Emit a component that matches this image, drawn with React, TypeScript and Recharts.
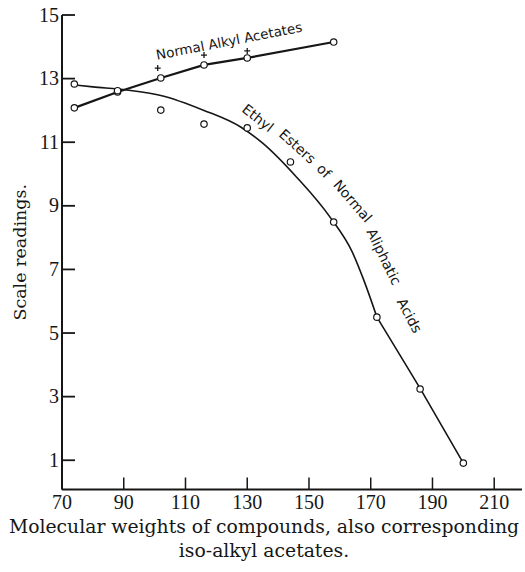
import React from 'react';
import { ComposedChart, Line, Scatter, XAxis, YAxis, ReferenceDot, Label } from 'recharts';

// Tick values
const xTicks = [70, 90, 110, 130, 150, 170, 190, 210];
const yTicks = [1, 3, 5, 7, 9, 11, 13, 15];

// Normal alkyl acetates (connected line with open circles)
const normalMW = [74, 88, 102, 116, 130, 158];
const normalScale = [12.08, 12.58, 13.02, 13.43, 13.65, 14.15];

// Iso-alkyl acetates ("+" marks)
const isoMW = [101, 116, 130];
const isoScale = [13.33, 13.74, 13.87];

// Ethyl esters of normal aliphatic acids (observed points)
const ethylMW = [74, 88, 102, 116, 130, 144, 158, 172, 186, 200];
const ethylScale = [12.83, 12.62, 12.01, 11.57, 11.45, 10.38, 8.49, 5.5, 3.24, 0.91];

// Smooth curve drawn through the ethyl ester points, then its straight tail
const curveMW = [74, 80, 91, 102, 116, 128, 135, 146, 157, 164, 168, 172];
const curveScale = [12.8, 12.74, 12.64, 12.47, 12.0, 11.47, 10.97, 9.9, 8.62, 7.55, 6.6, 5.5];
const tailMW = [172, 186, 200];
const tailScale = [5.5, 3.26, 0.91];

// Hand-lettered annotations
const noteText = ['Normal Alkyl Acetates', 'Ethyl', 'Esters', 'of', 'Normal', 'Aliphatic', 'Acids'];
const noteMW = [124.1, 133.5, 146.3, 154.9, 164.2, 174.3, 182.6];
const noteScale = [14.19, 11.76, 10.87, 10.1, 9.15, 7.4, 5.55];
const noteAngle = [-11, 38, 42, 45, 49, 64, 62];

const zip = (xs: number[], ys: number[]) => xs.map((x, i) => ({ x, y: ys[i] }));
const normalData = zip(normalMW, normalScale);
const isoData = zip(isoMW, isoScale);
const ethylData = zip(ethylMW, ethylScale);
const curveData = zip(curveMW, curveScale);
const tailData = zip(tailMW, tailScale);

const INK = '#161616';
const SERIF = '"DejaVu Serif", "Liberation Serif", serif';
const NUM = '"Liberation Serif", "DejaVu Serif", serif';
const HAND = '"DejaVu Sans", "Liberation Sans", sans-serif';

const XTick = (p: any) => {
  const { x, y, payload } = p;
  return (
    <g>
      <line x1={x} y1={y} x2={x} y2={y - 12} stroke={INK} strokeWidth={1.5} />
      <text x={x} y={y + 19} textAnchor="middle" fontFamily={NUM} fontSize={20} fill={INK}>
        {payload.value}
      </text>
    </g>
  );
};

const YTick = (p: any) => {
  const { x, y, payload } = p;
  return (
    <g>
      <line x1={x} y1={y} x2={x + 13} y2={y} stroke={INK} strokeWidth={1.8} />
      <text x={x - 3} y={y + 6.6} textAnchor="end" fontFamily={NUM} fontSize={20} fill={INK}>
        {payload.value}
      </text>
    </g>
  );
};

const OpenCircle = (p: any) => (
  <circle cx={p.cx} cy={p.cy} r={3.2} fill="#fff" stroke={INK} strokeWidth={1.2} />
);

const Plus = (p: any) => (
  <g stroke={INK} strokeWidth={1.3}>
    <line x1={p.cx - 3} y1={p.cy} x2={p.cx + 3} y2={p.cy} />
    <line x1={p.cx} y1={p.cy - 3} x2={p.cx} y2={p.cy + 3} />
  </g>
);

const YLabel = (p: any) => {
  const vb = p.viewBox;
  const cx = vb.x + 20;
  const cy = vb.y + vb.height / 2;
  return (
    <text x={cx} y={cy} transform={`rotate(-90 ${cx} ${cy})`} textAnchor="middle" dominantBaseline="central"
      fontFamily={SERIF} fontSize={17.5} fill={INK}>
      Scale readings.
    </text>
  );
};

const XLabel = (p: any) => {
  const vb = p.viewBox;
  const cx = vb.x + 202;
  return (
    <g fontFamily={SERIF} fontSize={18.8} fill={INK}>
      <text x={cx} y={vb.y + 43} textAnchor="middle">Molecular weights of compounds, also corresponding</text>
      <text x={cx} y={vb.y + 67} textAnchor="middle">iso-alkyl acetates.</text>
    </g>
  );
};

export default function App() {
  return (
    <div style={{ position: 'absolute', left: 0, top: 0, width: 525, height: 572, background: '#fff' }}>
      <ComposedChart width={525} height={572} margin={{ top: 15, right: 3, bottom: 0, left: 0 }}>
        <XAxis
          type="number"
          dataKey="x"
          domain={[70, 219]}
          allowDataOverflow
          ticks={xTicks}
          tickSize={0}
          tickMargin={0}
          tickLine={false}
          tick={<XTick />}
          interval={0}
          height={82.5}
          axisLine={{ stroke: INK, strokeWidth: 2 }}
        >
          <Label content={<XLabel />} />
        </XAxis>
        <YAxis
          type="number"
          dataKey="y"
          domain={[0.08, 15]}
          allowDataOverflow
          ticks={yTicks}
          tickSize={0}
          tickMargin={0}
          tickLine={false}
          tick={<YTick />}
          interval={0}
          width={62}
          axisLine={{ stroke: INK, strokeWidth: 2 }}
        >
          <Label content={<YLabel />} />
        </YAxis>
        <Line
          data={curveData}
          dataKey="y"
          type="monotone"
          stroke={INK}
          strokeWidth={1.6}
          dot={false}
          activeDot={false}
          isAnimationActive={false}
        />
        <Line
          data={tailData}
          dataKey="y"
          type="linear"
          stroke={INK}
          strokeWidth={1.6}
          dot={false}
          activeDot={false}
          isAnimationActive={false}
        />
        <Line
          data={normalData}
          dataKey="y"
          type="linear"
          stroke={INK}
          strokeWidth={2.2}
          dot={<OpenCircle />}
          activeDot={false}
          isAnimationActive={false}
        />
        <Scatter data={ethylData} dataKey="y" shape={<OpenCircle />} isAnimationActive={false} />
        <Scatter data={isoData} dataKey="y" shape={<Plus />} isAnimationActive={false} />
        {noteText.map((t, i) => (
          <ReferenceDot
            key={i}
            x={noteMW[i]}
            y={noteScale[i]}
            ifOverflow="visible"
            shape={(p: any) => (
              <text
                x={p.cx}
                y={p.cy}
                transform={`rotate(${noteAngle[i]} ${p.cx} ${p.cy})`}
                textAnchor="middle"
                dominantBaseline="central"
                fontFamily={HAND}
                fontSize={i === 0 ? 13.5 : 14}
                fill={INK}
              >
                {t}
              </text>
            )}
          />
        ))}
      </ComposedChart>
    </div>
  );
}
